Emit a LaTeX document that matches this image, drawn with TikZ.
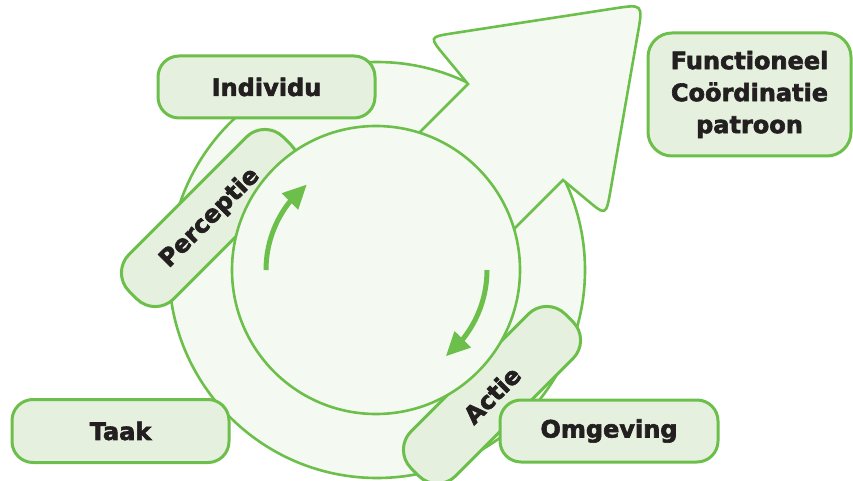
\documentclass[tikz,border=0pt]{standalone}
\usepackage{fontspec}
\setmainfont{DejaVu Sans}[BoldFeatures={FakeBold=2.5}]
\usetikzlibrary{arrows.meta,bending}
\definecolor{gstroke}{RGB}{108,191,75}
\definecolor{bgfill}{RGB}{244,250,241}
\definecolor{boxfill}{RGB}{229,241,222}
\definecolor{txt}{RGB}{35,31,32}
\begin{document}
\begin{tikzpicture}[x=1pt,y=-1pt,
  shape line/.style={draw=gstroke, line width=2.6pt, fill=bgfill},
  label box/.style={draw=gstroke, line width=3pt, fill=boxfill, rounded corners=21pt,
    inner sep=0pt, font=\fontsize{24}{32}\selectfont\bfseries, text=txt, align=center},
  cycle arrow/.style={draw=gstroke, line width=5pt, -{Triangle[length=24pt,width=22pt]}}]
\useasboundingbox (0,0) rectangle (853,481);
\coordinate (oc) at (377,270);
\coordinate (ic) at (376,270);
% outer circle
\draw[shape line] (oc) circle[radius=208];
% big arrow
\draw[shape line, line join=miter] (400,152) -- (468,84)
  -- (445.0,56.2) .. controls (429,37) .. (452.7,33.3)
  -- (613.3,8.6) .. controls (643,4) .. (637.8,33.6)
  -- (610.5,190.4) .. controls (606,216) .. (586.1,199.3)
  -- (563,180) -- (495,248) -- cycle;
% rotated boxes
\node[label box, rotate=45, rounded corners=26pt, minimum width=218pt, minimum height=63pt] (perc) at (210,218) {Perceptie};
\node[label box, rotate=45, rounded corners=26pt, minimum width=218pt, minimum height=63pt] (actie) at (492,395) {Actie};
% inner circle
\draw[shape line] (ic) circle[radius=144];
% cycle arrows
\draw[cycle arrow] (ic) ++(180:110) arc[start angle=180, end angle=231, radius=110];
\draw[cycle arrow] (ic) ++(0:111) arc[start angle=0, end angle=51, radius=111];
% other boxes
\node[label box, minimum width=217pt, minimum height=62pt] (indiv) at (266.5,87) {Individu};
\node[label box, rounded corners=24pt, minimum width=203pt, minimum height=123pt] (func) at (749.5,94.5) {Functioneel\\Coördinatie\\patroon};
\node[label box, minimum width=217pt, minimum height=63pt] (taak) at (120.5,431) {Taak};
\node[label box, minimum width=218pt, minimum height=62pt] (omg) at (609,431) {Omgeving};
\end{tikzpicture}
\end{document}
